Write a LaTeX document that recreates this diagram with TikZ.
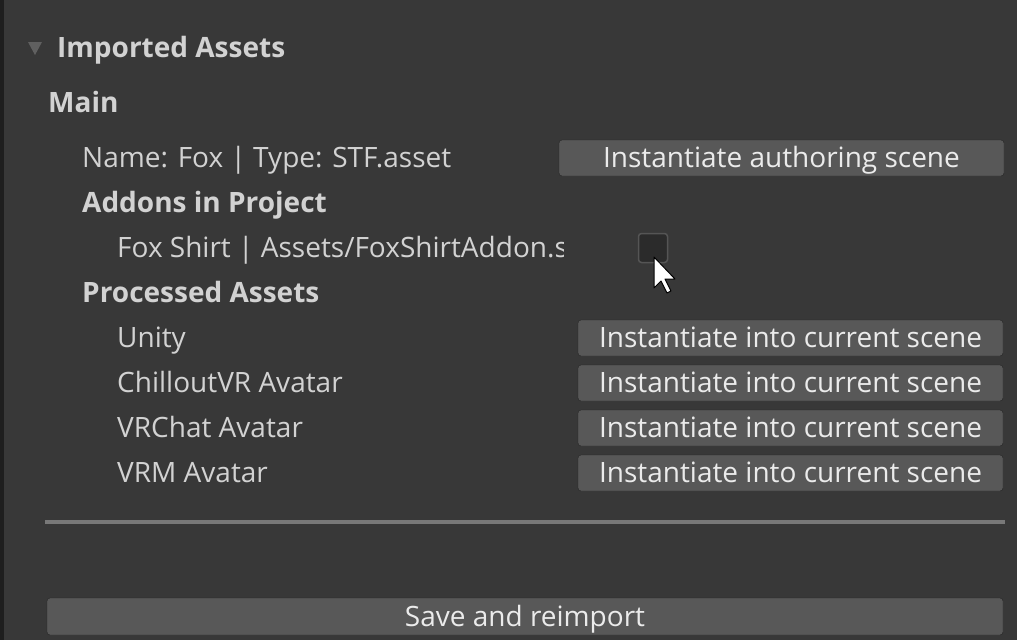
\documentclass[tikz,border=0pt]{standalone}
\usepackage{fontspec}
\setmainfont{Open Sans}

\definecolor{panelgray}{HTML}{383838}
\definecolor{edgegray}{HTML}{1E1E1E}
\definecolor{labelgray}{HTML}{D2D2D2}
\definecolor{buttongray}{HTML}{585858}
\definecolor{buttonedge}{HTML}{262626}
\definecolor{rulegray}{HTML}{787878}
\definecolor{boxgray}{HTML}{2B2B2B}
\definecolor{boxedge}{HTML}{555555}

\begin{document}
\begin{tikzpicture}
  [
    x                  = 1pt,
    y                  = -1pt,
    every node/.style  = {font=\fontsize{28}{32}\selectfont, text=labelgray, inner sep=0pt,
                          text height=19.5pt, text depth=0pt},
    label/.style       = {anchor=west},
    header/.style      = {anchor=west, font=\fontsize{28}{32}\selectfont\bfseries},
    button/.style      = {fill=buttongray, draw=buttonedge, rounded corners=3pt,
                          minimum height=36pt, text=white!92!black},
    checkbox/.style    = {fill=boxgray, draw=boxedge, line width=1.5pt, rounded corners=3pt,
                          minimum width=29pt, minimum height=29pt, text height=0pt}
  ]
  \useasboundingbox (0,0) rectangle (1017,640);
  \fill[panelgray] (0,0) rectangle (1017,640);
  \fill[edgegray] (0,0) rectangle (4,640);

  % foldout header
  \fill[gray!75!black] (28,42) -- (42,42) -- (35,55) -- cycle;
  \node[header] (imported) at (57,48) { Imported Assets };
  \node[header] (main) at (48,103) { Main };

  % main asset
  \node[label] (name) at (82,158) { Name: Fox | Type: STF.asset };
  \node[button, minimum width=445pt] (authoring) at (781.5,158) { Instantiate authoring scene };

  % addons
  \node[header] (addons) at (82,203) { Addons in Project };
  \begin{scope}
    \clip (100,225) rectangle (563,270);
    \node[label] (shirt) at (117,248) { Fox Shirt | Assets/FoxShirtAddon.stf };
  \end{scope}
  \node[checkbox] (enabled) at (653,248) {};

  % processed assets
  \node[header] (processed) at (82,293) { Processed Assets };
  \foreach \name [count=\i] in {Unity, ChilloutVR Avatar, VRChat Avatar, VRM Avatar} {
    \node[label] (target\i) at (117,293+45*\i) { \name };
    \node[button, minimum width=425pt] (instantiate\i) at (790.5,293+45*\i) { Instantiate into current scene };
  }

  % separator and save
  \fill[rulegray] (45,520) rectangle (1005,524);
  \node[button, minimum width=956pt, minimum height=37pt] (save) at (525,616.5) { Save and reimport };

  % mouse pointer
  \filldraw[fill=white, draw=black, line width=1pt, line join=round]
    (enabled.center) ++(1,9) -- ++(0,31) -- ++(7,-7) -- ++(6,12) -- ++(4,-2)
    -- ++(-6,-12) -- ++(10,0) -- cycle;
\end{tikzpicture}
\end{document}
